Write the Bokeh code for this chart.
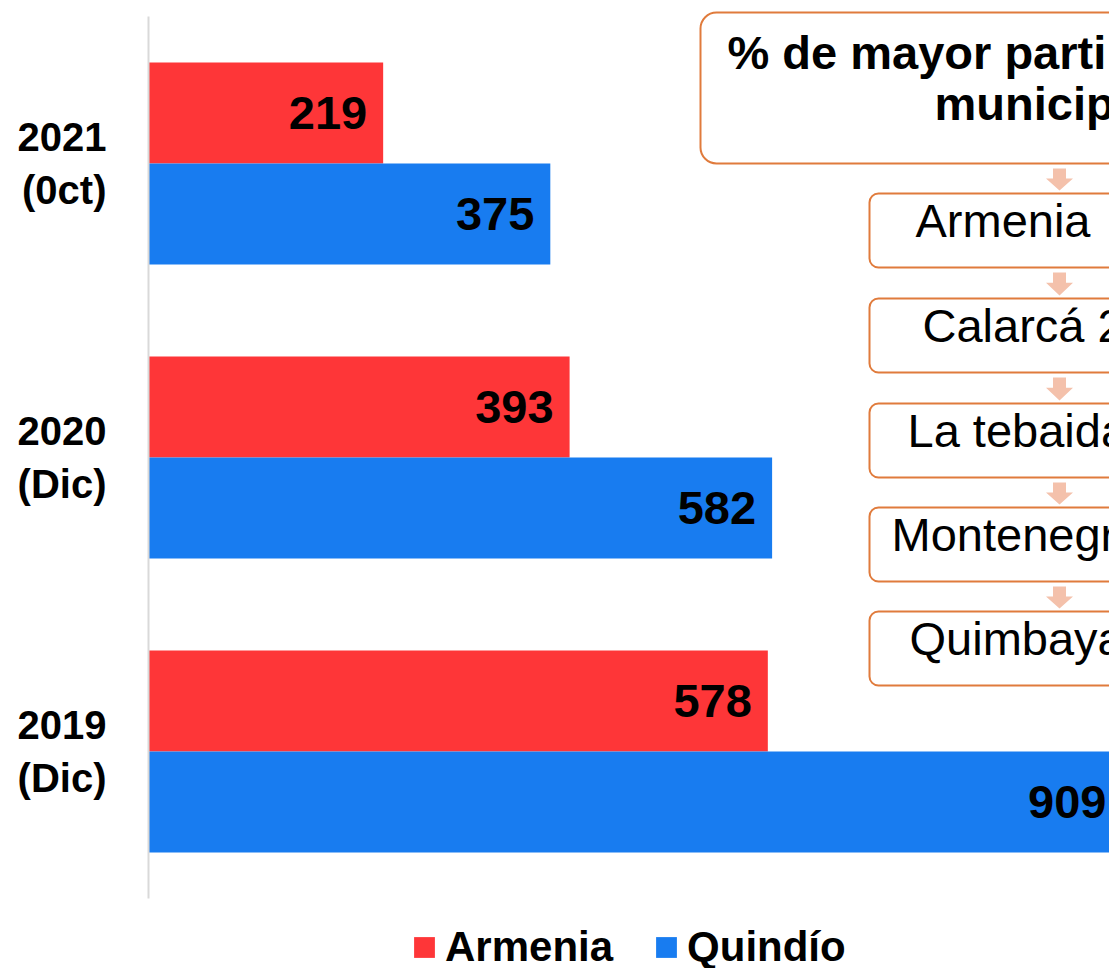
from bokeh.plotting import figure
from bokeh.models import (Range1d, FixedTicker, Legend, Label, BoxAnnotation,
                          PolyAnnotation, ColumnDataSource)
from bokeh.core.properties import value
from bokeh.embed import file_html
from bokeh.resources import INLINE

# ---------------- data ----------------
categories = ["2019\n(Dic)", "2020\n(Dic)", "2021\n(0ct)"]   # bottom -> top
armenia = [578, 393, 219]
quindio = [909, 582, 375]
series_names = ["Armenia", "Quindío"]
series_colors = ["#FE3638", "#187CF0"]

flow_title = ["% de mayor parti", "municip"]
flow_items = ["Armenia", "Calarcá 2", "La tebaida", "Montenegr", "Quimbaya"]

FONT = "Liberation Sans"

# ---------------- geometry helpers (canvas px -> data) ----------------
W, H = 1109, 968
X0_PX = 148            # pixel of x = 0 (frame left)
Y0_PX, Y3_PX = 898, 16  # pixels of the category band bottom / top
PX_PER_X = 1.0715
PX_PER_Y = (Y0_PX - Y3_PX) / len(categories)
FLOW_SHIFT = -8        # the canvas is 8px narrower than the reference picture


def dx(px):
    return (px - X0_PX) / PX_PER_X


def fx(px):
    return dx(px + FLOW_SHIFT)


def dy(py):
    return (Y0_PX - py) / PX_PER_Y


pos = [i + 0.5 for i in range(len(categories))]
bar_h = 101 / PX_PER_Y
off = bar_h / 2

src = ColumnDataSource(dict(
    y_a=[p_ + off for p_ in pos], y_q=[p_ - off for p_ in pos],
    armenia=armenia, quindio=quindio,
    la=[str(v) for v in armenia], lq=[str(v) for v in quindio],
))

p = figure(width=W, height=H, output_backend="svg", toolbar_location=None,
           x_range=Range1d(0, dx(W)), y_range=Range1d(dy(H), dy(0)),
           x_axis_location=None, min_border_left=X0_PX, min_border_right=0,
           min_border_top=0, min_border_bottom=0)
p.outline_line_color = None
p.xgrid.visible = False
p.ygrid.visible = False
p.background_fill_color = "white"
p.border_fill_color = "white"

ra = p.hbar(y="y_a", right="armenia", left=0, height=bar_h, source=src,
            fill_color=series_colors[0], line_color=None)
rq = p.hbar(y="y_q", right="quindio", left=0, height=bar_h, source=src,
            fill_color=series_colors[1], line_color=None)

for ycol, xcol, lcol in (("y_a", "armenia", "la"), ("y_q", "quindio", "lq")):
    p.text(x=xcol, y=ycol, text=lcol, source=src, x_offset=-16, y_offset=0,
           text_align="right", text_baseline="middle",
           text_font=value(FONT), text_font_style="bold",
           text_font_size=value("47px"), text_color="black")

ax = p.yaxis[0]
ax.ticker = FixedTicker(ticks=pos)
ax.major_label_overrides = {pv: c for pv, c in zip(pos, categories)}
ax.bounds = (0, len(categories))
ax.axis_line_color = "#D9D9D9"
ax.axis_line_width = 2
ax.major_tick_line_color = None
ax.minor_tick_line_color = None
ax.major_label_standoff = 36
ax.major_label_text_font = FONT
ax.major_label_text_font_style = "bold"
ax.major_label_text_font_size = "40px"
ax.major_label_text_color = "black"

legend = Legend(items=[(series_names[0], [ra]), (series_names[1], [rq])],
                orientation="horizontal", location=(263, -3),
                glyph_width=26, glyph_height=26, label_standoff=8, spacing=40,
                padding=0, margin=0, border_line_color=None,
                background_fill_alpha=0,
                label_text_font=FONT, label_text_font_style="bold",
                label_text_font_size="42px", label_text_color="black")
p.add_layout(legend, "center")

# ---------------- flowchart overlay ----------------
ORANGE = "#E07B3C"
ARROW = "#F4C1AB"
RIGHT_OUT = dx(1250)

p.add_layout(BoxAnnotation(left=fx(708), right=RIGHT_OUT, top=dy(12), bottom=dy(163),
                           fill_color="white", fill_alpha=1, line_color=ORANGE,
                           line_alpha=1, line_width=2, border_radius=16))
p.add_layout(Label(x=fx(735), y=dy(78), text=flow_title[0], text_font=FONT,
                   text_font_style="bold", text_font_size="47px", text_color="black"))
p.add_layout(Label(x=fx(942), y=dy(129), text=flow_title[1], text_font=FONT,
                   text_font_style="bold", text_font_size="47px", text_color="black"))

box_tops = [193, 298, 403, 507, 611]
box_h = 74
text_x = [923, 930, 915, 899, 917]
prev_bottom = 163
for name, top, tx in zip(flow_items, box_tops, text_x):
    # arrow
    a0, a1 = prev_bottom + 5, top - 3
    mid = a0 + (a1 - a0) * 0.45
    cx = 1067
    xs = [cx - 6.5, cx + 6.5, cx + 6.5, cx + 13.5, cx, cx - 13.5, cx - 6.5]
    ys = [a0, a0, mid, mid, a1, mid, mid]
    p.add_layout(PolyAnnotation(xs=[fx(v) for v in xs], ys=[dy(v) for v in ys],
                                fill_color=ARROW, fill_alpha=1, line_color=None))
    p.add_layout(BoxAnnotation(left=fx(877), right=RIGHT_OUT, top=dy(top),
                               bottom=dy(top + box_h), fill_color="white", fill_alpha=1,
                               line_color=ORANGE, line_alpha=1, line_width=2,
                               border_radius=9))
    p.add_layout(Label(x=fx(tx), y=dy(top + 53), text=name, text_font=FONT,
                       text_font_size="47px", text_color="black"))
    prev_bottom = top + box_h

open("out.html", "w").write(file_html(p, INLINE))
